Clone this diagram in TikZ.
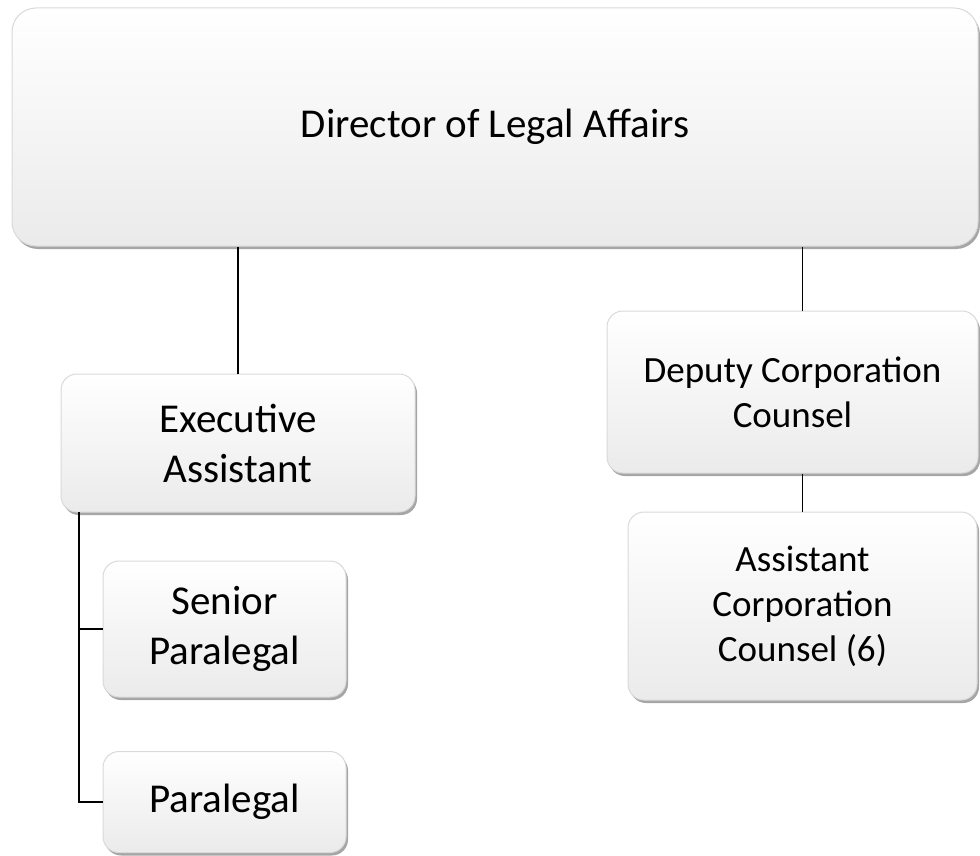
\documentclass[tikz,border=0pt]{standalone}
\usepackage{fontspec}
\setmainfont{Carlito}
\usetikzlibrary{positioning,shadows}

\begin{document}
\begin{tikzpicture}[x=1pt,y=1pt, every node/.style={align=center},
 card/.style={draw=gray!30,line width=1pt,rounded corners=16pt,
  top color=white,bottom color=gray!16,inner sep=0pt,
  drop shadow={shadow xshift=2pt,shadow yshift=-3pt,fill=gray!70,opacity=1},
  font=\fontsize{41}{50}\selectfont},
 smallcard/.style={card,font=\fontsize{37}{45}\selectfont},
 link/.style={line width=1.6pt}]
\useasboundingbox (0,0) rectangle (980,-856);
\node[card,rounded corners=24pt,minimum width=966pt,minimum height=238pt] (dir) at (495,-127) {Director of Legal Affairs};
\node[card,minimum width=354pt,minimum height=138pt] (exec) at (238,-443) {Executive\\Assistant};
\node[card,minimum width=243pt,minimum height=136pt] (senior) at (224.5,-629) {Senior\\Paralegal};
\node[card,minimum width=243pt,minimum height=101pt] (para) at (224.5,-802) {Paralegal};
\node[smallcard,minimum width=371pt,minimum height=162pt] (dep) at (792.5,-392) {Deputy Corporation\\Counsel};
\node[smallcard,minimum width=349pt,minimum height=188pt] (asst) at (802.5,-606) {Assistant\\Corporation\\Counsel (6)};
\coordinate (trunk) at (79,-512);
\draw[link] (exec.north |- dir.south)--(exec.north);
\draw[link] (asst.north |- dir.south)--(asst.north |- dep.north);
\draw[link] (asst.north |- dep.south)--(asst.north);
\draw[link] (trunk) |- (para.west);
\draw[link] (trunk |- senior.west)--(senior.west);
\end{tikzpicture}
\end{document}
